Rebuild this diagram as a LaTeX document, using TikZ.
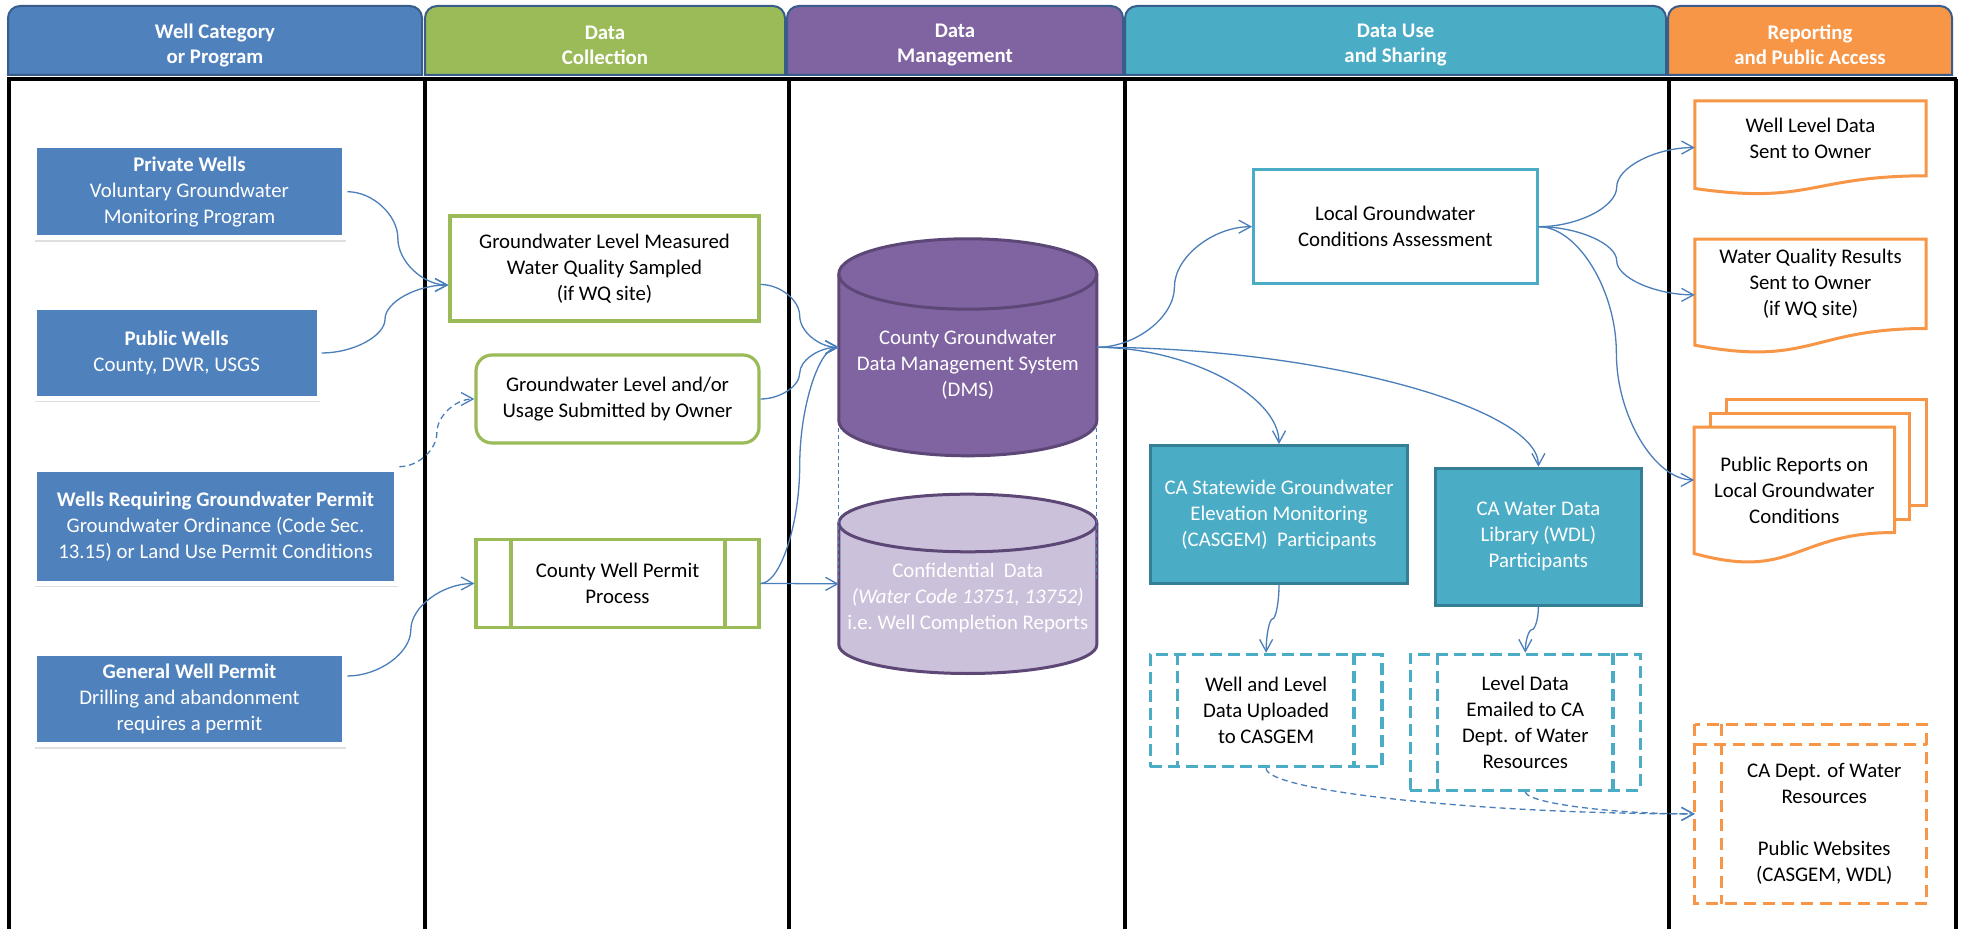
\documentclass[tikz,border=0pt]{standalone}
\usepackage{fontspec}
\setmainfont{Carlito}
\usepackage{tikz}
\usetikzlibrary{arrows.meta,calc,shadows,backgrounds}
\definecolor{wellblue}{HTML}{4F81BD}
\definecolor{collgreen}{HTML}{9BBB59}
\definecolor{mgmtpurple}{HTML}{8064A2}
\definecolor{mgmtdark}{HTML}{5C4776}
\definecolor{conflilac}{HTML}{CCC1DA}
\definecolor{useteal}{HTML}{4BACC6}
\definecolor{tealdark}{HTML}{357F96}
\definecolor{reportorange}{HTML}{F79646}
\definecolor{tabedge}{HTML}{385D8A}
\definecolor{flowblue}{HTML}{4A7EBB}

% cylinder drawn round a text node: node, x radius, y radius, style
\newcommand{\cylbody}[4]{%
  \draw[#4] ([yshift=#3]#1.north west) -- (#1.south west)
    arc[start angle=180,end angle=360,x radius=#2,y radius=#3]
    -- ([yshift=#3]#1.north east)
    arc[start angle=0,end angle=180,x radius=#2,y radius=#3] -- cycle;
  \draw[#4,fill=none] ([yshift=#3]#1.north east)
    arc[start angle=0,end angle=-180,x radius=#2,y radius=#3];}
% document sheet with wavy foot: node, extra on top, drop of the wave
\newcommand{\docbody}[3]{%
  \draw[docline] ([yshift=#2]#1.north west) -- ([yshift=#2]#1.north east) -- (#1.south east)
    .. controls (#1.south) and ([yshift=-2.31*#3]#1.south) .. ([yshift=-#3]#1.south west) -- cycle;}

\begin{document}
\begin{tikzpicture}[x=0.5pt,y=-0.5pt,font=\fontsize{10.4pt}{13pt}\selectfont,
  >={Straight Barb[length=6pt,width=6.5pt]},
  colline/.style={line width=2pt,draw=black},
  tabshape/.style={draw=tabedge,line width=1pt},
  tabtext/.style={text=white,font=\fontsize{10.4pt}{12.5pt}\selectfont\bfseries,align=center},
  wellbox/.style={fill=wellblue,draw=white,line width=2.5pt,text=white,align=center,inner sep=2pt,
    drop shadow={shadow xshift=0.6pt,shadow yshift=-2pt,opacity=0.25}},
  collbox/.style={draw=collgreen,line width=1.6pt,fill=white,align=center,inner sep=2pt},
  collline/.style={draw=collgreen,line width=1.6pt},
  cylnode/.style={text=white,align=center,inner sep=0pt,outer sep=0pt},
  dmscyl/.style={draw=mgmtdark,line width=1.5pt,fill=mgmtpurple},
  confcyl/.style={draw=mgmtdark,line width=1.5pt,fill=conflilac},
  usebox/.style={draw=useteal,line width=1.5pt,fill=white,align=center,inner sep=2pt},
  partbox/.style={draw=tealdark,line width=1.5pt,fill=useteal,text=white,align=center,inner sep=2pt},
  sharebox/.style={draw=useteal,line width=1.6pt,dash pattern=on 6pt off 3pt,align=center,inner sep=2pt},
  sharedash/.style={draw=useteal,line width=1.6pt,dash pattern=on 6pt off 3pt},
  docnode/.style={align=center,inner sep=0pt,outer sep=0pt},
  docline/.style={draw=reportorange,line width=1.5pt,fill=white},
  reportdash/.style={draw=reportorange,line width=1.5pt,dash pattern=on 6pt off 3.5pt},
  flow/.style={draw=flowblue,line width=0.65pt,->},
  flowdash/.style={flow,dash pattern=on 3pt off 2pt},
  hcurve/.style={to path={let \p1=(\tikztostart),\p2=(\tikztotarget) in
    .. controls ({0.75*\x1+0.25*\x2},\y1) and ({0.5*\x1+0.5*\x2},{0.75*\y1+0.25*\y2})
    .. ({0.5*\x1+0.5*\x2},{0.5*\y1+0.5*\y2})
    .. controls ({0.5*\x1+0.5*\x2},{0.25*\y1+0.75*\y2}) and ({0.25*\x1+0.75*\x2},\y2)
    .. (\tikztotarget)}},
  vcurve/.style={to path={let \p1=(\tikztostart),\p2=(\tikztotarget) in
    .. controls (\x1,{0.75*\y1+0.25*\y2}) and ({0.75*\x1+0.25*\x2},{0.5*\y1+0.5*\y2})
    .. ({0.5*\x1+0.5*\x2},{0.5*\y1+0.5*\y2})
    .. controls ({0.25*\x1+0.75*\x2},{0.5*\y1+0.5*\y2}) and (\x2,{0.25*\y1+0.75*\y2})
    .. (\tikztotarget)}},
  hvcurve/.style={to path={let \p1=(\tikztostart),\p2=(\tikztotarget) in
    .. controls ({0.5*\x1+0.5*\x2},\y1) and (\x2,{0.5*\y1+0.5*\y2}) .. (\tikztotarget)}},
  vhcurve/.style={to path={let \p1=(\tikztostart),\p2=(\tikztotarget) in
    .. controls (\x1,{0.5*\y1+0.5*\y2}) and ({0.5*\x1+0.5*\x2},\y2) .. (\tikztotarget)}}]
\useasboundingbox (0,0) rectangle (1962,929);

% swim lanes
\draw[colline] (7,79) -- (1957,79);
\foreach \cx in {9,425,788.5,1124.5,1668.5,1955.5}
  \draw[colline] (\cx,79) -- (\cx,929);
\foreach \tn/\xa/\xb/\tc/\hd in {cat/8/422/wellblue/{Well Category\\or Program},
    coll/425/785/collgreen/{Data\\Collection},
    mgmt/787/1123/mgmtpurple/{Data\\Management},
    share/1125/1666/useteal/{Data Use\\and Sharing},
    report/1668/1952/reportorange/{Reporting\\and Public Access}}{
  \draw[tabshape,fill=\tc] (\xa,75) [rounded corners=6pt] -- (\xa,6) -- (\xb,6) [sharp corners] -- (\xb,75) -- cycle;
  \node[tabtext] (tab\tn) at ({(\xa+\xb)/2},45) {\hd};
}

% well categories
\node[wellbox,minimum width=155.3pt,minimum height=45.9pt] (privwell) at (189.5,191.7)
  {\textbf{Private Wells}\\Voluntary Groundwater\\Monitoring Program};
\node[wellbox,minimum width=142.5pt,minimum height=45.5pt] (pubwell) at (176.7,353)
  {\textbf{Public Wells}\\County, DWR, USGS};
\node[wellbox,minimum width=181.3pt,minimum height=57pt] (permwell) at (215.5,526.2)
  {\textbf{Wells Requiring Groundwater Permit}\\Groundwater Ordinance (Code Sec.\\13.15) or Land Use Permit Conditions};
\node[wellbox,minimum width=155.3pt,minimum height=45.5pt] (genwell) at (189.5,699)
  {\textbf{General Well Permit}\\Drilling and abandonment\\requires a permit};

% data collection
\node[collbox,minimum width=154.5pt,minimum height=52.5pt] (gwmeas) at (604.5,268.5)
  {Groundwater Level Measured\\Water Quality Sampled\\(if WQ site)};
\node[collbox,rounded corners=8pt,minimum width=141.5pt,minimum height=44pt] (gwsubmit) at (617.5,399)
  {Groundwater Level and/or\\Usage Submitted by Owner};
\node[collbox,minimum width=141.5pt,minimum height=44.2pt] (permproc) at (617.5,583.5)
  {County Well Permit\\Process};
\draw[collline] ([xshift=18.3pt]permproc.north west) -- ([xshift=18.3pt]permproc.south west);
\draw[collline] ([xshift=-17.8pt]permproc.north east) -- ([xshift=-17.8pt]permproc.south east);

% data management
\node[cylnode,minimum width=129pt,minimum height=55.7pt] (dms) at (967.8,364.9)
  {County Groundwater\\Data Management System\\(DMS)};
\node[cylnode,minimum width=129pt,minimum height=46.45pt] (conf) at (967.8,598.25)
  {Confidential\ \ Data\\\textit{(Water Code 13751, 13752)}\\i.e.\ Well Completion Reports};
\draw[flowblue,line width=0.6pt,dash pattern=on 2pt off 1.5pt] ([yshift=-3.8pt]dms.south west) -- ([yshift=8.2pt]conf.west);
\draw[flowblue,line width=0.6pt,dash pattern=on 2pt off 1.5pt] ([yshift=-3.8pt]dms.south east) -- ([yshift=8.2pt]conf.east);

% data use and sharing
\node[usebox,minimum width=141.75pt,minimum height=56.75pt] (localgw) at (1395.3,226.7)
  {Local Groundwater\\Conditions Assessment};
\node[partbox,minimum width=128.9pt,minimum height=69pt] (casgem) at (1279,514.5)
  {CA Statewide Groundwater\\Elevation Monitoring\\(CASGEM)\ \ Participants};
\node[partbox,minimum width=103.3pt,minimum height=68.5pt] (wdl) at (1538.4,536.7)
  {CA Water Data\\Library (WDL)\\Participants};
\node[sharebox,minimum width=115.9pt,minimum height=56.2pt] (upload) at (1266.1,710.5)
  {Well and Level\\Data Uploaded\\to CASGEM};
\node[sharebox,minimum width=115.1pt,minimum height=67.9pt] (emailed) at (1525.3,722.2)
  {Level Data\\Emailed to CA\\Dept. of Water\\Resources};
\draw[sharedash] ([xshift=14.6pt]upload.north west) -- ([xshift=14.6pt]upload.south west);
\draw[sharedash] ([xshift=-14.8pt]upload.north east) -- ([xshift=-14.8pt]upload.south east);
\draw[sharedash] ([xshift=14.3pt]emailed.north west) -- ([xshift=14.3pt]emailed.south west);
\draw[sharedash] ([xshift=-14.5pt]emailed.north east) -- ([xshift=-14.5pt]emailed.south east);

% reporting
\node[docnode,minimum width=115.7pt,minimum height=37.5pt] (wldata) at (1810.5,138.3)
  {Well Level Data\\Sent to Owner};
\node[docnode,minimum width=115.7pt,minimum height=44.65pt] (wqres) at (1810.5,283.85)
  {Water Quality Results\\Sent to Owner\\(if WQ site)};
\node[docnode,minimum width=100.15pt,minimum height=41.75pt] (pubrep) at (1794.35,490.75)
  {Public Reports on\\Local Groundwater\\Conditions};
\node[docnode,minimum width=102.55pt,minimum height=79.4pt] (cadwr) at (1824.25,824.1)
  {CA Dept. of Water\\Resources\\[13pt]Public Websites\\(CASGEM, WDL)};
\draw[reportdash] ([xshift=-13.45pt,yshift=10.25pt]cadwr.north west) rectangle (cadwr.south east);
\draw[reportdash] ([xshift=-13.45pt]cadwr.north west) -- (cadwr.north east);
\draw[reportdash] ([yshift=10.25pt]cadwr.north west) -- (cadwr.south west);

\begin{scope}[on background layer]
  \fill[white] (0,0) rectangle (1962,929);
  \cylbody{dms}{64.5pt}{17.6pt}{dmscyl}
  \cylbody{conf}{64.5pt}{14.4pt}{confcyl}
  \docbody{wldata}{0pt}{6.35pt}
  \docbody{wqres}{0pt}{8.35pt}
  \draw[docline] ([shift={(32,-49)}]pubrep.north west) rectangle ([shift={(32,-27)}]pubrep.south east);
  \draw[docline] ([shift={(16.5,-35.5)}]pubrep.north west) rectangle ([shift={(15,-12.5)}]pubrep.south east);
  \docbody{pubrep}{10.9pt}{10.5pt}
\end{scope}

% connection points
\coordinate (gwin) at ([yshift=-8.25pt]gwmeas.west);
\coordinate (gwout) at ([yshift=-8pt]gwmeas.east);
\coordinate (dmsL) at ([yshift=8.8pt]dms.west);
\coordinate (dmsR) at ([yshift=8.8pt]dms.east);
\coordinate (confL) at ([yshift=7.2pt]conf.west);
\coordinate (wldin) at ($(wldata.north west)!0.6234!(wldata.south west)$);
\coordinate (wqrin) at ($(wqres.north west)!0.6234!(wqres.south west)$);
\coordinate (pubin) at ([yshift=5.4pt]pubrep.west);
\coordinate (cadin) at ([xshift=-13.45pt,yshift=5.1pt]cadwr.west);

% flows
\draw[flow] (privwell.east) to[hcurve] (gwin);
\draw[flow] (pubwell.east) to[hcurve] (gwin);
\draw[flowdash] (permwell.north east) to[hcurve] (gwsubmit.west);
\draw[flow] ([yshift=11.5pt]genwell.east) to[hcurve] (permproc.west);
\draw[flow] (gwout) to[hcurve] (dmsL);
\draw[flow] (gwsubmit.east) to[hcurve] (dmsL);
\draw[flow] (permproc.east) to[hcurve] (dmsL);
\draw[flow] (permproc.east) to[hcurve] (confL);
\draw[flow] (dmsR) to[hcurve] (localgw.west);
\draw[flow] (dmsR) to[hvcurve] (casgem.north);
\draw[flow] (dmsR) to[hvcurve] (wdl.north);
\draw[flow] (localgw.east) to[hcurve] (wldin);
\draw[flow] (localgw.east) to[hcurve] (wqrin);
\draw[flow] (localgw.east) to[hcurve] (pubin);
\draw[flow] (casgem.south) to[vcurve] (upload.north);
\draw[flow] (wdl.south) to[vcurve] (emailed.north);
\draw[flowdash] (upload.south) to[vhcurve] (cadin);
\draw[flowdash] (emailed.south) to[vhcurve] (cadin);
\end{tikzpicture}
\end{document}
